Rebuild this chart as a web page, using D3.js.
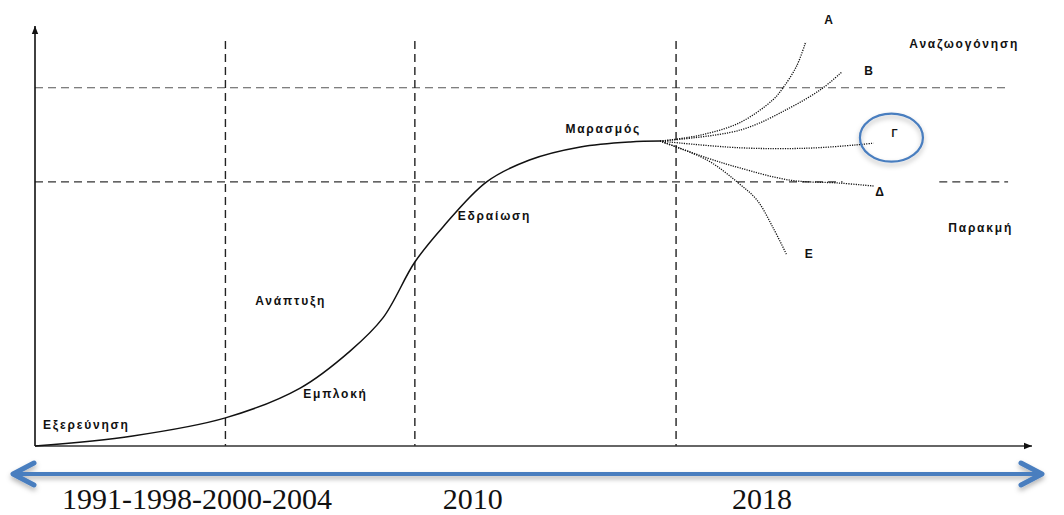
<!DOCTYPE html>
<html>
<head>
<meta charset="utf-8">
<script src="https://cdn.jsdelivr.net/npm/d3@7"></script>
<style>
  html, body { margin: 0; padding: 0; background: #fff; }
  svg { display: block; }
  .stage { font-family: "Liberation Sans", Arial, sans-serif; font-weight: bold; font-size: 12px; letter-spacing: 1.8px; fill: #111; }
  .period { font-family: "Liberation Serif", "Times New Roman", serif; font-size: 30px; fill: #111; }
</style>
</head>
<body>
<svg id="chart" width="1064" height="515"></svg>
<script>
// ---------- data (abstract units 0..100 on both axes) ----------
const mainX = [0, 9.8, 19.1, 26.6, 31.6, 34.9, 38.1, 40.9, 45.3, 49.6, 54.7, 59.7, 62.7];
const mainY = [0, 2.4, 6.7, 13.8, 22.6, 30.5, 43.8, 52.1, 62.9, 68.1, 71.2, 72.4, 72.6];

const branchNames = ["Α", "Β", "Γ", "Δ", "Ε"];
const branchAX = [62.7, 66.7, 70.7, 74.0, 75.0, 76.4, 77.3];
const branchAY = [72.6, 74.0, 77.0, 82.4, 85.2, 90.5, 96.2];
const branchBX = [62.7, 70.7, 75.7, 79.0, 80.9];
const branchBY = [72.6, 75.2, 80.5, 85.2, 89.0];
const branchGX = [62.7, 70.7, 77.4, 82.4, 84.1];
const branchGY = [72.6, 71.0, 70.9, 71.7, 72.1];
const branchDX = [62.7, 67.4, 70.7, 75.7, 80.7, 84.1];
const branchDY = [72.6, 68.6, 66.2, 63.3, 62.6, 61.9];
const branchEX = [62.7, 67.4, 70.4, 72.4, 74.0, 75.4];
const branchEY = [72.6, 68.1, 62.9, 58.6, 52.1, 45.5];

const dividerX = [19.1, 38.1, 64.3];     // period boundaries
const levelY = [85.3, 62.9];             // upper / lower reference levels

const stageLabels = ["Εξερεύνηση", "Εμπλοκή", "Ανάπτυξη", "Εδραίωση", "Μαρασμός", "Αναζωογόνηση", "Παρακμή"];
const periodLabels = ["1991-1998-2000-2004", "2010", "2018"];

// ---------- layout ----------
const x = d3.scaleLinear().domain([0, 100]).range([35, 1032]);
const y = d3.scaleLinear().domain([0, 100]).range([446, 26]);

const stagePos = [[0.8, 5.0], [26.9, 12.4], [22.1, 34.5], [42.4, 54.8], [53.2, 75.5], [87.7, 95.6], [91.6, 51.8]];
const branchLabelPos = [[79.6, 101.4], [83.6, 89.3], [86.2, 74.3], [84.7, 60.5], [77.6, 45.7]];
const periodPos = [2.7, 40.9, 69.9];

const svg = d3.select("#chart");
const defs = svg.append("defs");
const f = defs.append("filter").attr("id", "shadow").attr("x", "-10%").attr("y", "-50%").attr("width", "120%").attr("height", "250%");
f.append("feDropShadow").attr("dx", 0).attr("dy", 3).attr("stdDeviation", 2.5).attr("flood-color", "#000").attr("flood-opacity", 0.3);

const marker = defs.append("marker").attr("id", "tri").attr("viewBox", "0 0 10 10")
  .attr("refX", 10).attr("refY", 5).attr("markerWidth", 8).attr("markerHeight", 8)
  .attr("markerUnits", "userSpaceOnUse").attr("orient", "auto");
marker.append("path").attr("d", "M0,1 L10,5 L0,9 Z").attr("fill", "#111");

// reference dashed levels
const lv = svg.append("g");
lv.append("line").attr("x1", x(0)).attr("x2", x(97.6)).attr("y1", y(levelY[0])).attr("y2", y(levelY[0]))
  .attr("stroke", "#555").attr("stroke-width", 1.2).attr("stroke-dasharray", "8,5");
lv.append("line").attr("x1", x(0)).attr("x2", x(81.0)).attr("y1", y(levelY[1])).attr("y2", y(levelY[1]))
  .attr("stroke", "#333").attr("stroke-width", 1.2).attr("stroke-dasharray", "8,5");
lv.append("line").attr("x1", x(90.7)).attr("x2", x(97.6)).attr("y1", y(levelY[1])).attr("y2", y(levelY[1]))
  .attr("stroke", "#333").attr("stroke-width", 1.2).attr("stroke-dasharray", "8,5");

// vertical dividers
svg.append("g").selectAll("line").data(dividerX).join("line")
  .attr("x1", d => x(d)).attr("x2", d => x(d)).attr("y1", y(96.4)).attr("y2", y(0))
  .attr("stroke", "#222").attr("stroke-width", 1.4).attr("stroke-dasharray", "8,5");

// axes
svg.append("line").attr("x1", x(0)).attr("x2", x(0)).attr("y1", y(0)).attr("y2", y(100))
  .attr("stroke", "#111").attr("stroke-width", 1.6).attr("marker-end", "url(#tri)");
svg.append("line").attr("x1", x(0)).attr("x2", x(100)).attr("y1", y(0)).attr("y2", y(0))
  .attr("stroke", "#333").attr("stroke-width", 1.3).attr("marker-end", "url(#tri)");

// main curve
const line = d3.line().x(d => x(d[0])).y(d => y(d[1])).curve(d3.curveCatmullRom.alpha(0.5));
svg.append("path").datum(d3.zip(mainX, mainY)).attr("d", line)
  .attr("fill", "none").attr("stroke", "#111").attr("stroke-width", 1.5);

// scenario branches
const branches = [[branchAX, branchAY], [branchBX, branchBY], [branchGX, branchGY], [branchDX, branchDY], [branchEX, branchEY]];
svg.append("g").selectAll("path").data(branches).join("path")
  .attr("d", b => line(d3.zip(b[0], b[1])))
  .attr("fill", "none").attr("stroke", "#111").attr("stroke-width", 1.3).attr("stroke-dasharray", "1.2,1.2");

// branch labels
svg.append("g").selectAll("text").data(branchNames).join("text")
  .attr("class", "stage")
  .attr("x", (d, i) => x(branchLabelPos[i][0])).attr("y", (d, i) => y(branchLabelPos[i][1]))
  .attr("text-anchor", "middle").attr("dominant-baseline", "central")
  .style("letter-spacing", "0px")
  .style("font-size", (d, i) => i === 2 ? "10px" : "12px")
  .text(d => d);

// highlight circle around Γ
svg.append("ellipse").attr("cx", x(85.9)).attr("cy", y(73.4)).attr("rx", 31.5).attr("ry", 24)
  .attr("fill", "none").attr("stroke", "#4a7ebf").attr("stroke-width", 2.2).attr("filter", "url(#shadow)");

// stage labels
svg.append("g").selectAll("text").data(stageLabels).join("text")
  .attr("class", "stage")
  .attr("x", (d, i) => x(stagePos[i][0])).attr("y", (d, i) => y(stagePos[i][1]))
  .attr("dominant-baseline", "central")
  .text(d => d);

// blue time arrow
const ta = svg.append("g").attr("filter", "url(#shadow)")
  .attr("stroke", "#4a7ebf").attr("fill", "none").attr("stroke-linecap", "round").attr("stroke-linejoin", "round");
const ay = 474;
ta.append("line").attr("x1", 14).attr("x2", 1041).attr("y1", ay).attr("y2", ay).attr("stroke-width", 4);
ta.append("path").attr("d", `M34,${ay - 11} L13,${ay} L34,${ay + 11}`).attr("stroke-width", 5);
ta.append("path").attr("d", `M1021,${ay - 11} L1042,${ay} L1021,${ay + 11}`).attr("stroke-width", 5);

// period labels
svg.append("g").selectAll("text").data(periodLabels).join("text")
  .attr("class", "period")
  .attr("x", (d, i) => x(periodPos[i])).attr("y", 509)
  .text(d => d);
</script>
</body>
</html>
